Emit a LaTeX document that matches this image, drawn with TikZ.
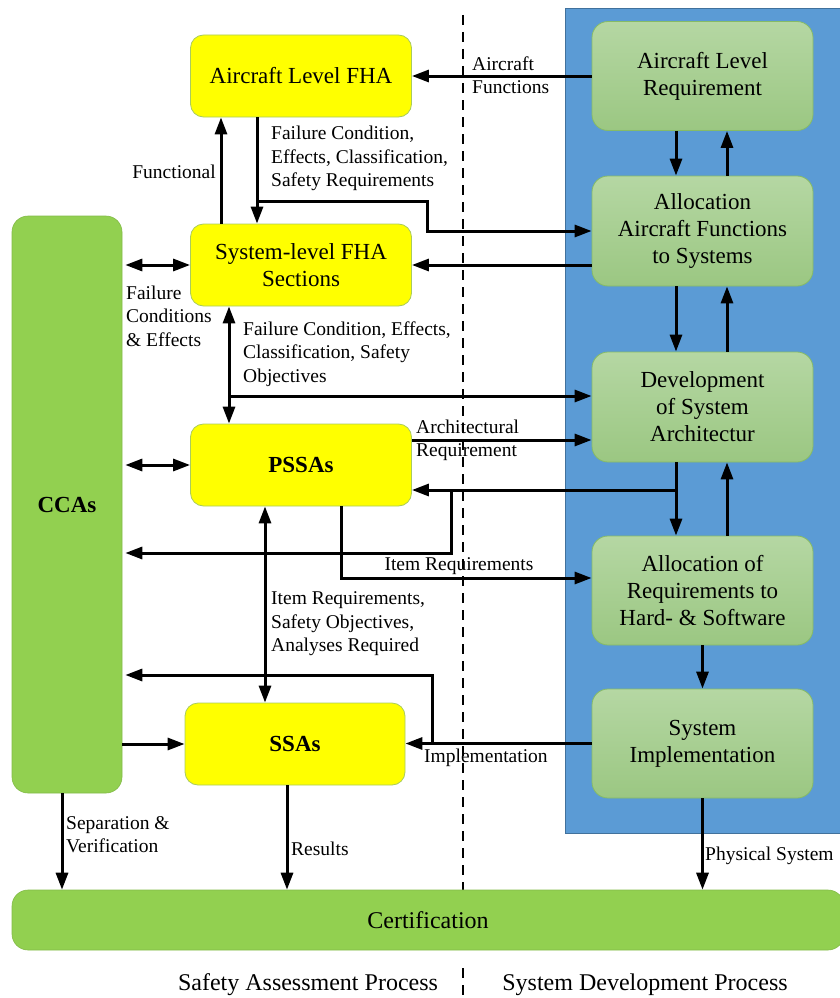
\documentclass[tikz,border=0pt]{standalone}
\usepackage{fontspec}
\setmainfont{Liberation Serif}
\usetikzlibrary{arrows.meta}
\definecolor{fhafill}{HTML}{FFFF00}
\definecolor{fhaedge}{HTML}{A9CB5E}
\definecolor{devtop}{HTML}{B5D7A3}
\definecolor{devbottom}{HTML}{9BC782}
\definecolor{devedge}{HTML}{86BB66}
\definecolor{barfill}{HTML}{92D050}
\definecolor{sysblue}{HTML}{5B9BD5}
\definecolor{sysedge}{HTML}{41719C}
\begin{document}
\begin{tikzpicture}[x=1pt,y=-1pt,
  fha/.style={draw=fhaedge,line width=0.8pt,fill=fhafill,rounded corners=13pt,minimum width=221pt,minimum height=82pt,inner sep=0pt,align=center,font=\fontsize{23}{27}\selectfont},
  dev/.style={draw=devedge,line width=0.8pt,top color=devtop,bottom color=devbottom,rounded corners=16pt,minimum width=221pt,minimum height=109pt,inner sep=0pt,align=center,font=\fontsize{23}{27}\selectfont},
  bar/.style={draw=barfill!90!black,line width=0.6pt,fill=barfill,rounded corners=16pt,inner sep=0pt,font=\fontsize{24}{28}\selectfont},
  lbl/.style={inner sep=0pt,align=left,font=\fontsize{19.5}{23.5}\selectfont},
  flow/.style={line width=3pt,-{Triangle[length=17pt,width=12pt]}},
  both/.style={line width=3pt,{Triangle[length=17pt,width=12pt]}-{Triangle[length=17pt,width=12pt]}}]
\useasboundingbox (0,0) rectangle (839,998);
\draw[fill=sysblue,draw=sysedge,line width=1pt] (565,9) rectangle (842,833);
\draw[line width=1.3pt,dash pattern=on 10pt off 7pt] (463,15) -- (463,890);
\draw[line width=1.3pt,dash pattern=on 10pt off 7pt] (463,968) -- (463,998);

\node[fha] (afha) at (301,76) {Aircraft Level FHA};
\node[fha] (sfha) at (301,265) {System-level FHA\\Sections};
\node[fha,font=\fontsize{23}{27}\selectfont\bfseries] (pssa) at (301,465) {PSSAs};
\node[fha,minimum width=220pt,font=\fontsize{23}{27}\selectfont\bfseries] (ssa) at (295,744) {SSAs};
\node[bar,minimum width=110pt,minimum height=577pt,font=\fontsize{23}{27}\selectfont\bfseries] (cca) at (67,504.5) {CCAs};
\node[bar,minimum width=832pt,minimum height=60pt] (cert) at (428,920) {Certification};

\node[dev] (alr) at (702.5,76) {Aircraft Level\\Requirement};
\node[dev,minimum height=110pt] (aaf) at (702.5,231) {Allocation\\Aircraft Functions\\to Systems};
\node[dev,minimum height=110pt] (dsa) at (702.5,407) {Development\\of System\\Architectur};
\node[dev] (arh) at (702.5,590.5) {Allocation of\\Requirements to\\Hard- \& Software};
\node[dev] (sim) at (702.5,743.5) {System\\Implementation};

\foreach \a/\b in {alr/aaf,aaf/dsa,dsa/arh}{
  \draw[flow] ([xshift=-26.5pt]\a.south) -- ([xshift=-26.5pt]\b.north);
  \draw[flow] ([xshift=24.5pt]\b.north) -- ([xshift=24.5pt]\a.south);
}
\draw[flow] (arh.south) -- (sim.north);

\draw[flow] (alr.west) -- (afha.east);
\draw[flow] ([xshift=-80pt]sfha.north) -- ([xshift=-80pt]afha.south);
\draw[flow] ([xshift=-44pt]afha.south) -- ([xshift=-44pt]sfha.north);
\coordinate (fcsplit) at (257,201);
\draw[flow] (fcsplit) -- (427,201) |- (aaf.west);
\draw[flow] ([yshift=-34pt]aaf.west) -- (sfha.east);
\draw[both] ([xshift=3pt]cca.east |- sfha.west) -- (sfha.west);

\draw[both] ([xshift=-72pt]sfha.south) -- ([xshift=-72pt]pssa.north);
\coordinate (objsplit) at (229,396);
\draw[flow] (objsplit) -- (objsplit -| dsa.west);
\draw[flow] ([yshift=25pt]pssa.east) -- ([yshift=25pt]pssa.east -| dsa.west);
\draw[both] ([xshift=3pt]cca.east |- pssa.west) -- (pssa.west);

\coordinate (archsplit) at (676,490);
\coordinate (ccasplit) at (451,490);
\draw[flow] (archsplit) -- (archsplit -| pssa.east);
\draw[flow] (ccasplit) -- (451,553) -- ([xshift=3pt]cca.east |- 0,553);
\draw[flow] ([xshift=40pt]pssa.south) |- ([yshift=12.5pt]arh.west);

\draw[both] ([xshift=-36pt]pssa.south) -- ([xshift=-36pt]pssa.south |- ssa.north);
\draw[flow] (sim.west) -- (sim.west -| ssa.east);
\coordinate (implsplit) at (432,743.5);
\draw[flow] (implsplit) |- ([xshift=3pt]cca.east |- 0,675);
\draw[flow] (cca.east |- ssa.west) -- (ssa.west);

\draw[flow] ([xshift=-5pt]cca.south) -- ([xshift=-5pt]cca.south |- cert.north);
\draw[flow] ([xshift=-8pt]ssa.south) -- ([xshift=-8pt]ssa.south |- cert.north);
\draw[flow] (sim.south) -- (sim.south |- cert.north);

\node[lbl,anchor=west] (acfun) at (472,75) {Aircraft\\Functions};
\node[lbl,anchor=east] (funct) at (216,172) {Functional};
\node[lbl,anchor=west] (fcreq) at (271,158.5) {Failure Condition,\\Effects, Classification,\\Safety Requirements};
\node[lbl,anchor=west] (fceff) at (126,316) {Failure\\Conditions\\\& Effects};
\node[lbl,anchor=west] (fcobj) at (243,354) {Failure Condition, Effects,\\Classification, Safety\\Objectives};
\node[lbl,anchor=west] (archreq) at (416,440.5) {Architectural\\Requirement};
\node[lbl] (itemreq) at (459,566) {Item Requirements};
\node[lbl,anchor=west] (itemobj) at (271,624) {Item Requirements,\\Safety Objectives,\\Analyses Required};
\node[lbl,anchor=west] (impl) at (424,758) {Implementation};
\node[lbl,anchor=west] (sepver) at (66,834.5) {Separation \&\\Verification};
\node[lbl,anchor=west] (res) at (291,849) {Results};
\node[lbl,anchor=west] (phys) at (705,856) {Physical System};

\node[inner sep=0pt,font=\fontsize{24}{28}\selectfont] (safproc) at (308,985) {Safety Assessment Process};
\node[inner sep=0pt,font=\fontsize{24}{28}\selectfont] (devproc) at (645,985) {System Development Process};
\end{tikzpicture}
\end{document}
